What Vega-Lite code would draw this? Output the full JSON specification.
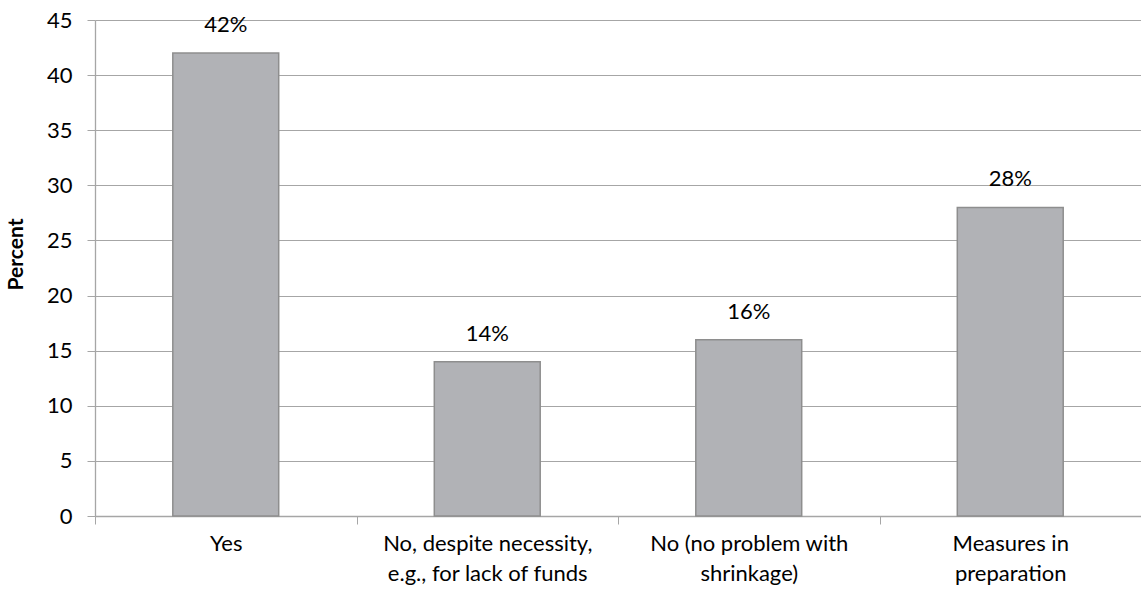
{
  "$schema": "https://vega.github.io/schema/vega-lite/v6.json",
  "width": 1046,
  "height": 496,
  "autosize": "none",
  "padding": {"left": 95, "top": 20, "right": 0, "bottom": 76},
  "background": "white",
  "config": {
    "view": {"stroke": null},
    "font": "Lato",
    "axis": {"labelFont": "Lato", "titleFont": "Lato"}
  },
  "data": {
    "values": [
      {"answer": "Yes", "percent": 42, "label": "42%"},
      {"answer": "No, despite necessity,|e.g., for lack of funds", "percent": 14, "label": "14%"},
      {"answer": "No (no problem with|shrinkage)", "percent": 16, "label": "16%"},
      {"answer": "Measures in|preparation", "percent": 28, "label": "28%"}
    ]
  },
  "encoding": {
    "x": {
      "field": "answer",
      "type": "nominal",
      "sort": null,
      "scale": {"paddingInner": 0, "paddingOuter": 0},
      "axis": {
        "title": null,
        "labelAngle": 0,
        "labelExpr": "split(datum.label, '|')",
        "labelFontSize": 22,
        "labelColor": "#000000",
        "labelLineHeight": 30,
        "labelPadding": 9,
        "labelBaseline": "top",
        "tickBand": "extent",
        "tickSize": 8,
        "tickColor": "#a6a6a6",
        "domainColor": "#a6a6a6",
        "domainWidth": 1.3,
        "labelLimit": 300
      }
    },
    "y": {
      "field": "percent",
      "type": "quantitative",
      "scale": {"domain": [0, 45], "nice": false},
      "axis": {
        "title": "Percent",
        "titleFontSize": 21,
        "titleFontWeight": "bold",
        "titleColor": "#000000",
        "titlePadding": 20,
        "titleY": 234,
        "values": [0, 5, 10, 15, 20, 25, 30, 35, 40, 45],
        "labelFontSize": 22,
        "labelColor": "#000000",
        "labelPadding": 15,
        "tickSize": 8,
        "tickColor": "#a6a6a6",
        "domainColor": "#a6a6a6",
        "domainWidth": 1.3,
        "gridColor": "#a6a6a6",
        "gridWidth": 1.1
      }
    }
  },
  "layer": [
    {
      "mark": {"type": "bar", "width": {"band": 0.405}, "color": "#b1b2b6", "stroke": "#8e8e8e", "strokeWidth": 1.5}
    },
    {
      "mark": {"type": "text", "baseline": "bottom", "dy": -16, "fontSize": 22, "color": "#000000", "font": "Lato"},
      "encoding": {"text": {"field": "label"}}
    }
  ]
}
